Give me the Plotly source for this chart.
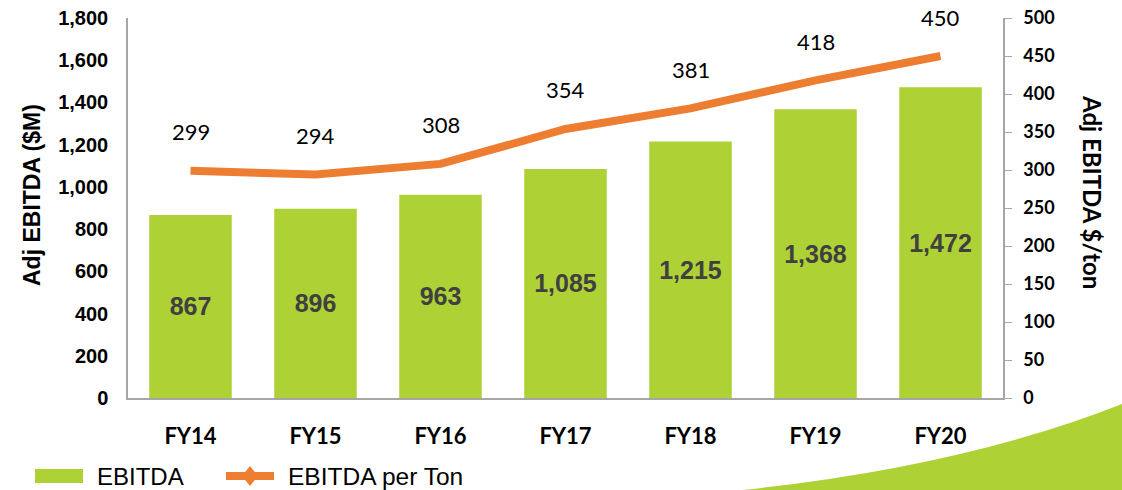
import plotly.graph_objects as go

categories = ["FY14", "FY15", "FY16", "FY17", "FY18", "FY19", "FY20"]
ebitda = [867, 896, 963, 1085, 1215, 1368, 1472]
ebitda_per_ton = [299, 294, 308, 354, 381, 418, 450]
left_ticks = [0, 200, 400, 600, 800, 1000, 1200, 1400, 1600, 1800]
right_ticks = [0, 50, 100, 150, 200, 250, 300, 350, 400, 450, 500]

GREEN = "#AED136"
ORANGE = "#ED7D31"
GRAY_AXIS = "#A6A6A6"
ARIAL = "Liberation Sans, Arial, sans-serif"
CALIBRI = "Lato, Carlito, Calibri, sans-serif"

W, H = 1122, 490
ML, MR, MT, MB = 128, 119, 18, 92

fig = go.Figure()
fig.add_trace(go.Bar(
    x=categories, y=ebitda, marker=dict(color=GREEN, line=dict(width=0)),
    width=0.66,
    text=[f"{v:,}" for v in ebitda], textposition="inside",
    insidetextanchor="middle", textangle=0,
    textfont=dict(family=ARIAL, size=25, color="#404040", weight="bold"),
    showlegend=False, hoverinfo="skip", yaxis="y",
))
fig.add_trace(go.Scatter(
    x=categories, y=ebitda_per_ton, mode="lines",
    line=dict(color=ORANGE, width=8), yaxis="y2", showlegend=False,
))
for c, v in zip(categories, ebitda_per_ton):
    fig.add_annotation(x=c, y=v, yref="y2", text=str(v), showarrow=False,
                       yshift=39, font=dict(family=CALIBRI, size=22, color="black"))

fig.update_layout(
    width=W, height=H,
    margin=dict(l=ML, r=MR, t=MT, b=MB, autoexpand=False),
    paper_bgcolor="white", plot_bgcolor="white",
    xaxis=dict(showline=True, linecolor=GRAY_AXIS, linewidth=1.5, ticks="",
               automargin=False,
               tickfont=dict(family=CALIBRI, size=22, color="black", weight="bold"),
               ticklabelstandoff=18, showgrid=False),
    yaxis=dict(range=[0, 1800], tickvals=left_ticks, showline=True, automargin=False,
               linecolor=GRAY_AXIS, linewidth=1.5, showgrid=False, zeroline=False,
               tickformat=",", ticklabelstandoff=14,
               tickfont=dict(family=ARIAL, size=20, color="black", weight="bold")),
    yaxis2=dict(range=[0, 500], tickvals=right_ticks, overlaying="y", side="right",
                automargin=False,
                showline=True, linecolor=GRAY_AXIS, linewidth=1.5, showgrid=False,
                zeroline=False, ticks="outside", ticklen=7, tickcolor=GRAY_AXIS,
                ticklabelstandoff=8,
                tickfont=dict(family=CALIBRI, size=18, color="black", weight="bold")),
)

pw, ph = W - ML - MR, H - MT - MB
def px(x):
    return (x - ML) / pw
def py(y):
    return (H - y - MB) / ph

# axis titles
fig.add_annotation(xref="paper", yref="paper", x=px(32), y=py(195), text="Adj EBITDA ($M)",
                   textangle=-90, showarrow=False, xanchor="center", yanchor="middle",
                   font=dict(family=ARIAL, size=23, color="black", weight="bold"))
fig.add_annotation(xref="paper", yref="paper", x=px(1093), y=py(192), text="Adj EBITDA $/ton",
                   textangle=90, showarrow=False, xanchor="center", yanchor="middle",
                   font=dict(family=CALIBRI, size=24, color="black", weight="bold"))

# decorative swoosh bottom-right
path = (f"M {px(733)},{py(491)} Q {px(960)},{py(468)} {px(1122)},{py(404)} "
        f"L {px(1122)},{py(491)} Z")
fig.add_shape(type="path", xref="paper", yref="paper", path=path,
              fillcolor=GREEN, line=dict(width=0), layer="below")

# manual legend
fig.add_shape(type="rect", xref="paper", yref="paper", x0=px(35), x1=px(83),
              y0=py(483), y1=py(469), fillcolor=GREEN, line=dict(width=0))
fig.add_annotation(xref="paper", yref="paper", x=px(95), y=py(476), text="EBITDA",
                   showarrow=False, xanchor="left", yanchor="middle",
                   font=dict(family=ARIAL, size=24, color="black"))
fig.add_shape(type="line", xref="paper", yref="paper", x0=px(226), x1=px(274),
              y0=py(476), y1=py(476), line=dict(color=ORANGE, width=8))
fig.add_shape(type="path", xref="paper", yref="paper",
              path=f"M {px(250)},{py(466)} L {px(258)},{py(476)} L {px(250)},{py(486)} L {px(242)},{py(476)} Z",
              fillcolor=ORANGE, line=dict(width=0))
fig.add_annotation(xref="paper", yref="paper", x=px(286), y=py(476), text="EBITDA per Ton",
                   showarrow=False, xanchor="left", yanchor="middle",
                   font=dict(family=ARIAL, size=24.5, color="black"))

fig.write_html("out.html", config={"displayModeBar": False},
               post_script="document.body.style.margin='0';document.body.style.overflow='hidden';")
